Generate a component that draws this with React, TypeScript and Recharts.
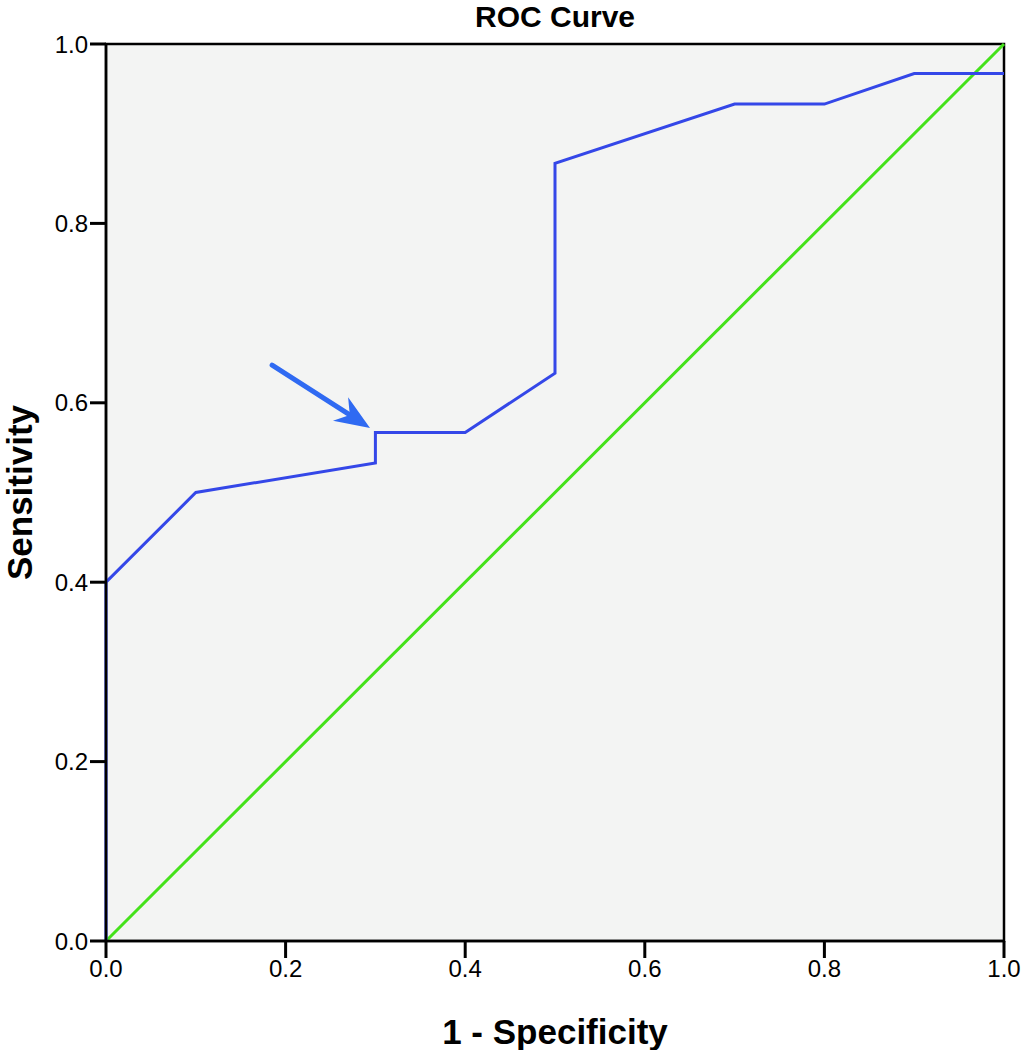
import {
	Line,
	LineChart,
	ReferenceArea,
	ReferenceLine,
	XAxis,
	YAxis,
} from "recharts";

// ROC curve
const rocFpr = [0, 0, 0.1, 0.3, 0.3, 0.4, 0.5, 0.5, 0.7, 0.8, 0.9, 1.0];
const rocTpr = [0, 0.4, 0.5, 0.533, 0.567, 0.567, 0.633, 0.867, 0.933, 0.933, 0.967, 0.967];

const refFpr = [0, 1];
const refTpr = [0, 1];

const axisTicks = [0, 0.2, 0.4, 0.6, 0.8, 1.0];

// annotation arrow, tail -> tip
const arrowFrom = { x: 0.185, y: 0.642 };
const arrowTo = { x: 0.294, y: 0.572 };

const rocData = rocFpr.map((x, i) => ({ x, y: rocTpr[i] }));
const refData = refFpr.map((x, i) => ({ x, y: refTpr[i] }));

const font = "'Liberation Sans', Arial, sans-serif";

const ArrowShape = (props: any) => {
	const { x1, y1, x2, y2 } = props;
	if ([x1, y1, x2, y2].some((v) => v == null || isNaN(v))) return null;
	const dx = x2 - x1;
	const dy = y2 - y1;
	const len = Math.sqrt(dx * dx + dy * dy);
	const ux = dx / len;
	const uy = dy / len;
	const nx = -uy;
	const ny = ux;
	const headLen = 35;
	const halfW = 14;
	const notch = 24;
	const bx = x2 - ux * headLen;
	const by = y2 - uy * headLen;
	const pts = [
		[x2, y2],
		[bx + nx * halfW, by + ny * halfW],
		[x2 - ux * notch, y2 - uy * notch],
		[bx - nx * halfW, by - ny * halfW],
	]
		.map((p) => p.join(","))
		.join(" ");
	return (
		<g>
			<line
				x1={x1}
				y1={y1}
				x2={x2 - ux * notch}
				y2={y2 - uy * notch}
				stroke="#2f6af2"
				strokeWidth={5}
				strokeLinecap="round"
			/>
			<polygon points={pts} fill="#2f6af2" />
		</g>
	);
};

const App = () => {
	return (
		<div
			style={{
				position: "absolute",
				left: 0,
				top: 0,
				width: 1021,
				height: 1050,
				background: "#fff",
				fontFamily: font,
			}}
		>
			<div
				style={{
					position: "absolute",
					left: 106,
					width: 898,
					top: 0,
					textAlign: "center",
					fontSize: 30,
					lineHeight: "normal",
					fontWeight: "bold",
				}}
			>
				ROC Curve
			</div>
			<LineChart
				width={1021}
				height={1050}
				margin={{ top: 44, right: 17, bottom: 0, left: 0 }}
			>
				<ReferenceArea
					x1={0}
					x2={1}
					y1={0}
					y2={1}
					fill="#f3f4f3"
					fillOpacity={1}
					stroke="#000"
					strokeWidth={2.5}
				/>
				<XAxis
					type="number"
					dataKey="x"
					domain={[0, 1]}
					ticks={axisTicks}
					tickFormatter={(v) => v.toFixed(1)}
					height={109}
					tickSize={17}
					axisLine={{ stroke: "#000", strokeWidth: 2.5 }}
					tickLine={{ stroke: "#000", strokeWidth: 3 }}
					tick={{ fill: "#000", fontSize: 24, fontFamily: font }}
					label={{
						value: "1 - Specificity",
						position: "insideBottom",
						offset: 6,
						fill: "#000",
						fontSize: 35,
						fontWeight: "bold",
						fontFamily: font,
					}}
				/>
				<YAxis
					type="number"
					dataKey="y"
					domain={[0, 1]}
					ticks={axisTicks}
					tickFormatter={(v) => v.toFixed(1)}
					width={106}
					tickSize={16}
					axisLine={{ stroke: "#000", strokeWidth: 2.5 }}
					tickLine={{ stroke: "#000", strokeWidth: 3 }}
					tick={{ fill: "#000", fontSize: 24, fontFamily: font }}
					label={{
						value: "Sensitivity",
						angle: -90,
						position: "insideLeft",
						offset: 20,
						fill: "#000",
						fontSize: 35,
						fontWeight: "bold",
						fontFamily: font,
						style: { textAnchor: "middle" },
					}}
				/>
				<Line
					data={refData}
					dataKey="y"
					type="linear"
					stroke="#44e21a"
					strokeWidth={3}
					dot={false}
					activeDot={false}
					isAnimationActive={false}
				/>
				<Line
					data={rocData}
					dataKey="y"
					type="linear"
					stroke="#3447e8"
					strokeWidth={3}
					dot={false}
					activeDot={false}
					isAnimationActive={false}
				/>
				<ReferenceLine
					segment={[arrowFrom, arrowTo]}
					shape={(p: any) => <ArrowShape {...p} />}
				/>
			</LineChart>
		</div>
	);
};

export default App;
